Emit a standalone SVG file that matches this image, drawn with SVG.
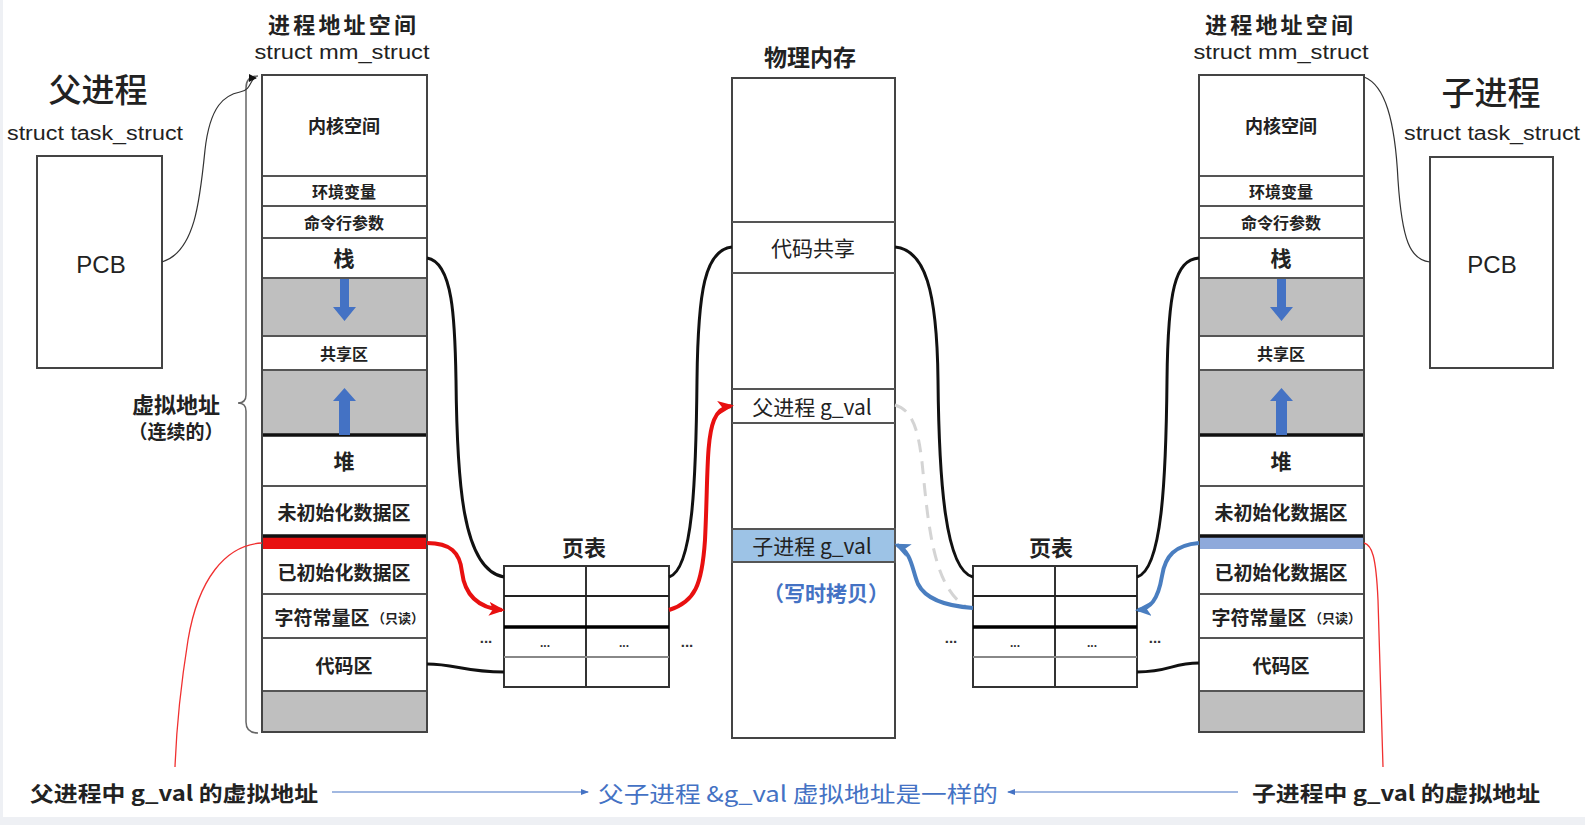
<svg xmlns="http://www.w3.org/2000/svg" width="1585" height="825" viewBox="0 0 1585 825">
<style>
.cj{font-family:"Noto Sans CJK SC","Noto Sans",sans-serif;fill:#222;text-anchor:middle;dominant-baseline:central}
.la{font-family:"Liberation Sans","Noto Sans",sans-serif;fill:#222;text-anchor:middle;dominant-baseline:central}
.dot{font-family:"Liberation Sans",sans-serif;fill:#333;text-anchor:middle;font-weight:bold}
.b{font-weight:bold}
.box{fill:#fff;stroke:#444;stroke-width:2}
.gray{fill:#BFBFBF;stroke:#555;stroke-width:2}
.sep{stroke:#555;stroke-width:2}
.thick{stroke:#111;stroke-width:3.5}
.blk{fill:none;stroke:#111;stroke-width:3}
.thin{fill:none;stroke:#333;stroke-width:1.2}
.blu{fill:#4472C4}
</style>
<defs>
<marker id="mr" markerUnits="userSpaceOnUse" markerWidth="16" markerHeight="14" refX="13" refY="7" orient="auto"><path d="M0,0 L16,7 L0,14 L4,7 z" fill="#E81010"/></marker>
<marker id="mb" markerUnits="userSpaceOnUse" markerWidth="16" markerHeight="14" refX="13" refY="7" orient="auto"><path d="M0,0 L16,7 L0,14 L4,7 z" fill="#4A7EC0"/></marker>
<marker id="mk" markerUnits="userSpaceOnUse" markerWidth="8" markerHeight="8" refX="7" refY="4" orient="auto"><path d="M0,0 L8,4 L0,8 z" fill="#111"/></marker>
<marker id="ms" markerUnits="userSpaceOnUse" markerWidth="8" markerHeight="8" refX="7" refY="4" orient="auto"><path d="M0,1 L8,4 L0,7 z" fill="#4472C4"/></marker>
</defs>
<rect x="0" y="0" width="1585" height="825" fill="#EEF0F4"/>
<rect x="3" y="0" width="1582" height="817" fill="#fff"/>

<!-- Parent PCB -->
<g id="parent-pcb">
<text class="cj" x="98" y="88" font-size="33" font-weight="500">父进程</text>
<text class="la" x="95" y="133" font-size="20" textLength="176" lengthAdjust="spacingAndGlyphs">struct task_struct</text>
<rect class="box" x="37" y="156" width="125" height="212"/>
<text class="la" x="101" y="264" font-size="24">PCB</text>
</g>

<!-- Parent address space -->
<g id="parent-mm">
<text class="cj b" x="342" y="23" font-size="22" textLength="148">进程地址空间</text>
<text class="la" x="342" y="52" font-size="20" textLength="175" lengthAdjust="spacingAndGlyphs">struct mm_struct</text>
<rect class="box" x="262" y="75" width="165" height="657"/>
<rect class="gray" x="262" y="278" width="165" height="58"/>
<rect class="gray" x="262" y="370" width="165" height="65"/>
<rect class="gray" x="262" y="691" width="165" height="41"/>
<rect x="262" y="537" width="165" height="12" fill="#E81010"/>
<line class="sep" x1="262" y1="176" x2="427" y2="176"/>
<line class="sep" x1="262" y1="206" x2="427" y2="206"/>
<line class="sep" x1="262" y1="238" x2="427" y2="238"/>
<line class="sep" x1="262" y1="486" x2="427" y2="486"/>
<line class="sep" x1="262" y1="594" x2="427" y2="594"/>
<line class="sep" x1="262" y1="638" x2="427" y2="638"/>
<line class="thick" x1="262" y1="435" x2="427" y2="435"/>
<line class="thick" x1="262" y1="536" x2="427" y2="536"/>
<rect x="262" y="75" width="165" height="657" fill="none" stroke="#444" stroke-width="2"/>
<polygon class="blu" points="340,279 349,279 349,307 356,307 344.5,321 333,307 340,307"/>
<polygon class="blu" points="344.5,388 356,401 350,401 350,435 339,435 339,401 333,401"/>
<text class="cj b" x="344" y="125" font-size="18">内核空间</text>
<text class="cj b" x="344" y="191" font-size="16">环境变量</text>
<text class="cj b" x="344" y="222" font-size="16">命令行参数</text>
<text class="cj b" x="344" y="257" font-size="21">栈</text>
<text class="cj b" x="344" y="353" font-size="16">共享区</text>
<text class="cj b" x="344" y="460" font-size="21">堆</text>
<text class="cj b" x="344" y="511" font-size="19">未初始化数据区</text>
<text class="cj b" x="344" y="571" font-size="19">已初始化数据区</text>
<text class="cj b" x="322" y="616" font-size="19">字符常量区</text>
<text class="cj b" x="398" y="617" font-size="13">（只读）</text>
<text class="cj b" x="344" y="664" font-size="19">代码区</text>
</g>

<!-- brace / virtual address -->
<g id="virtual-label">
<path d="M258,76 Q246,76 246,88 L246,395 Q246,403 238,403 Q246,403 246,411 L246,722 Q246,733 258,733" fill="none" stroke="#666" stroke-width="1.5"/>
<text class="cj b" x="176" y="403" font-size="22">虚拟地址</text>
<text class="cj b" x="176" y="430" font-size="19">（连续的）</text>
</g>

<!-- Left page table -->
<g id="pt-left">
<text class="cj b" x="584" y="546" font-size="22">页表</text>
<rect x="504" y="566" width="165" height="121" fill="#fff" stroke="#333" stroke-width="2"/>
<line x1="586" y1="566" x2="586" y2="687" stroke="#333" stroke-width="2"/>
<line x1="504" y1="596" x2="669" y2="596" stroke="#222" stroke-width="2"/>
<line x1="504" y1="627" x2="669" y2="627" stroke="#000" stroke-width="3.5"/>
<line x1="504" y1="657" x2="669" y2="657" stroke="#888" stroke-width="2"/>
<text class="dot" x="486" y="643" font-size="15">...</text>
<text class="dot" x="545" y="647" font-size="12">...</text>
<text class="dot" x="624" y="647" font-size="12">...</text>
<text class="dot" x="687" y="647" font-size="15">...</text>
</g>

<!-- Physical memory -->
<g id="phys-mem">
<text class="cj b" x="810" y="56" font-size="23">物理内存</text>
<rect class="box" x="732" y="78" width="163" height="660"/>
<line class="sep" x1="732" y1="222" x2="895" y2="222"/>
<line class="sep" x1="732" y1="273" x2="895" y2="273"/>
<line class="sep" x1="732" y1="389" x2="895" y2="389"/>
<line class="sep" x1="732" y1="423" x2="895" y2="423"/>
<rect x="732" y="529" width="163" height="33" fill="#9DC3E6" stroke="#555" stroke-width="2"/>
<text class="cj" x="813" y="247" font-size="21">代码共享</text>
<text class="cj" x="812" y="406" font-size="21">父进程 g_val</text>
<text class="cj" x="812" y="545" font-size="21">子进程 g_val</text>
<text class="cj b" x="826" y="592" font-size="21" style="fill:#4472C4">（写时拷贝）</text>
</g>

<!-- Right page table -->
<g id="pt-right">
<text class="cj b" x="1051" y="546" font-size="22">页表</text>
<rect x="973" y="566" width="164" height="121" fill="#fff" stroke="#333" stroke-width="2"/>
<line x1="1055" y1="566" x2="1055" y2="687" stroke="#333" stroke-width="2"/>
<line x1="973" y1="596" x2="1137" y2="596" stroke="#222" stroke-width="2"/>
<line x1="973" y1="627" x2="1137" y2="627" stroke="#000" stroke-width="3.5"/>
<line x1="973" y1="657" x2="1137" y2="657" stroke="#888" stroke-width="2"/>
<text class="dot" x="951" y="643" font-size="15">...</text>
<text class="dot" x="1015" y="647" font-size="12">...</text>
<text class="dot" x="1092" y="647" font-size="12">...</text>
<text class="dot" x="1155" y="643" font-size="15">...</text>
</g>

<!-- Child address space -->
<g id="child-mm">
<text class="cj b" x="1279" y="23" font-size="22" textLength="148">进程地址空间</text>
<text class="la" x="1281" y="52" font-size="20" textLength="175" lengthAdjust="spacingAndGlyphs">struct mm_struct</text>
<rect class="box" x="1199" y="75" width="165" height="657"/>
<rect class="gray" x="1199" y="278" width="165" height="58"/>
<rect class="gray" x="1199" y="370" width="165" height="65"/>
<rect class="gray" x="1199" y="691" width="165" height="41"/>
<rect x="1199" y="537" width="165" height="12" fill="#8EA9DB"/>
<line class="sep" x1="1199" y1="176" x2="1364" y2="176"/>
<line class="sep" x1="1199" y1="206" x2="1364" y2="206"/>
<line class="sep" x1="1199" y1="238" x2="1364" y2="238"/>
<line class="sep" x1="1199" y1="486" x2="1364" y2="486"/>
<line class="sep" x1="1199" y1="594" x2="1364" y2="594"/>
<line class="sep" x1="1199" y1="638" x2="1364" y2="638"/>
<line class="thick" x1="1199" y1="435" x2="1364" y2="435"/>
<line class="thick" x1="1199" y1="536" x2="1364" y2="536"/>
<rect x="1199" y="75" width="165" height="657" fill="none" stroke="#444" stroke-width="2"/>
<polygon class="blu" points="1277,279 1286,279 1286,307 1293,307 1281.5,321 1270,307 1277,307"/>
<polygon class="blu" points="1281.5,388 1293,401 1287,401 1287,435 1276,435 1276,401 1270,401"/>
<text class="cj b" x="1281" y="125" font-size="18">内核空间</text>
<text class="cj b" x="1281" y="191" font-size="16">环境变量</text>
<text class="cj b" x="1281" y="222" font-size="16">命令行参数</text>
<text class="cj b" x="1281" y="257" font-size="21">栈</text>
<text class="cj b" x="1281" y="353" font-size="16">共享区</text>
<text class="cj b" x="1281" y="460" font-size="21">堆</text>
<text class="cj b" x="1281" y="511" font-size="19">未初始化数据区</text>
<text class="cj b" x="1281" y="571" font-size="19">已初始化数据区</text>
<text class="cj b" x="1259" y="616" font-size="19">字符常量区</text>
<text class="cj b" x="1335" y="617" font-size="13">（只读）</text>
<text class="cj b" x="1281" y="664" font-size="19">代码区</text>
</g>

<!-- Child PCB -->
<g id="child-pcb">
<text class="cj" x="1491" y="91" font-size="33" font-weight="500">子进程</text>
<text class="la" x="1492" y="133" font-size="20" textLength="176" lengthAdjust="spacingAndGlyphs">struct task_struct</text>
<rect class="box" x="1430" y="157" width="123" height="211"/>
<text class="la" x="1492" y="264" font-size="24">PCB</text>
</g>

<!-- Connectors -->
<g id="connectors">
<path class="thin" d="M162,262 C195,252 200,200 205,150 C210,105 225,95 240,92 C252,90 250,78 256,78" marker-end="url(#mk)"/>
<path class="thin" d="M1364,77 C1385,85 1395,120 1398,180 C1402,240 1410,260 1430,262"/>
<path class="blk" d="M427,258 C453,262 455,320 456,380 C457,480 462,570 504,577"/>
<path class="blk" d="M669,577 C693,570 696,480 697,380 C698,290 705,250 732,247"/>
<path class="blk" d="M895,247 C925,250 937,290 938,380 C939,480 945,570 973,577"/>
<path class="blk" d="M1137,577 C1162,570 1166,480 1167,380 C1168,290 1175,260 1199,258"/>
<path class="blk" d="M427,664 C455,664 465,672 504,672"/>
<path class="blk" d="M1137,672 C1170,672 1172,663 1199,663"/>
<path d="M895,405 C912,410 918,428 922,462 C928,520 932,585 965,606" fill="none" stroke="#D4D4D4" stroke-width="3" stroke-dasharray="13,9"/>
<path d="M427,543 C450,543 460,552 462,572 C465,597 480,608 502,610" fill="none" stroke="#E81010" stroke-width="4" marker-end="url(#mr)"/>
<path d="M669,610 C695,602 702,585 705,540 C708,480 706,440 714,420 C718,410 724,407 731,406" fill="none" stroke="#E81010" stroke-width="4" marker-end="url(#mr)"/>
<path d="M1199,543 C1175,545 1165,556 1162,576 C1158,600 1150,609 1138,610" fill="none" stroke="#4A7EC0" stroke-width="4" marker-end="url(#mb)"/>
<path d="M973,608 C945,606 925,598 918,584 C912,570 912,552 897,545" fill="none" stroke="#4A7EC0" stroke-width="4" marker-end="url(#mb)"/>
<path d="M262,543 C225,545 198,580 188,640 C180,690 176,740 175,767" fill="none" stroke="#F03030" stroke-width="1.3"/>
<path d="M1364,543 C1372,545 1376,556 1378,600 C1380,680 1382,740 1383,767" fill="none" stroke="#F03030" stroke-width="1.3"/>
<line x1="332" y1="792" x2="588" y2="792" stroke="#4472C4" stroke-width="1.2" marker-end="url(#ms)"/>
<line x1="1238" y1="792" x2="1008" y2="792" stroke="#4472C4" stroke-width="1.2" marker-end="url(#ms)"/>
</g>

<!-- bottom labels -->
<g id="bottom-labels">
<text class="cj b" x="174" y="792" font-size="21" textLength="288" lengthAdjust="spacingAndGlyphs">父进程中 g_val 的虚拟地址</text>
<text class="cj" x="798" y="792" font-size="22" textLength="400" lengthAdjust="spacingAndGlyphs" style="fill:#4472C4">父子进程 &amp;g_val 虚拟地址是一样的</text>
<text class="cj b" x="1396" y="792" font-size="21" textLength="288" lengthAdjust="spacingAndGlyphs">子进程中 g_val 的虚拟地址</text>
</g>
</svg>
